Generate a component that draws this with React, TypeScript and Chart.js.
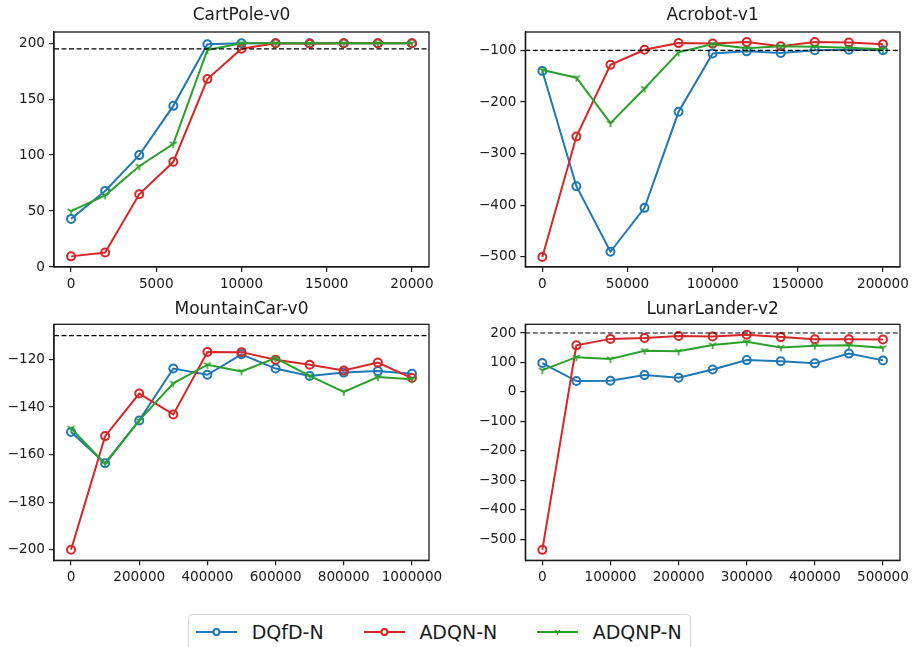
import React, { useEffect, useRef } from "react";
import { Chart, registerables } from "chart.js";

Chart.register(...registerables);

// ---------- data ----------
const seriesNames = ["DQfD-N", "ADQN-N", "ADQNP-N"];
const seriesColors = ["#1f77b4", "#d62728", "#2ca02c"];

const cartSteps = [0, 2000, 4000, 6000, 8000, 10000, 12000, 14000, 16000, 18000, 20000];
const cartDQfD = [43, 68, 100, 144, 199, 200, 200, 200, 200, 200, 200];
const cartADQN = [9.5, 13, 65, 94, 168, 195, 200, 199.5, 200, 200, 200];
const cartADQNP = [50, 64, 90, 110, 194, 200, 200, 200, 200, 200, 200];
const cartThreshold = 195;
const cartXTicks = [0, 5000, 10000, 15000, 20000];
const cartYTicks = [0, 50, 100, 150, 200];

const acroSteps = [0, 20000, 40000, 60000, 80000, 100000, 120000, 140000, 160000, 180000, 200000];
const acroDQfD = [-140, -363, -490, -405, -219, -106, -102, -105, -100, -99, -100];
const acroADQN = [-500, -267, -128, -99, -86, -87, -84, -92, -84, -85, -88];
const acroADQNP = [-138, -153, -241, -174, -104, -88, -96, -92, -93, -95, -98];
const acroThreshold = -100;
const acroXTicks = [0, 50000, 100000, 150000, 200000];
const acroYTicks = [-500, -400, -300, -200, -100];

const mcarSteps = [0, 100000, 200000, 300000, 400000, 500000, 600000, 700000, 800000, 900000, 1000000];
const mcarDQfD = [-150.5, -163.6, -145.6, -123.8, -126.4, -117.8, -123.8, -126.9, -125.5, -124.8, -126];
const mcarADQN = [-200, -152.2, -134.3, -143.1, -116.8, -116.9, -120.1, -122.2, -124.6, -121.3, -127.8];
const mcarADQNP = [-148.9, -163.9, -145.6, -130, -122.2, -125, -119.4, -126.9, -133.6, -127.4, -128.3];
const mcarThreshold = -110;
const mcarXTicks = [0, 200000, 400000, 600000, 800000, 1000000];
const mcarYTicks = [-200, -180, -160, -140, -120];

const lunarSteps = [0, 50000, 100000, 150000, 200000, 250000, 300000, 350000, 400000, 450000, 500000];
const lunarDQfD = [98, 37, 38, 57, 48, 76, 108, 104, 97, 130, 107];
const lunarADQN = [-536, 158, 180, 183, 190, 188, 194, 186, 179, 179, 178];
const lunarADQNP = [74, 118, 112, 140, 138, 159, 170, 151, 157, 158, 150];
const lunarThreshold = 200;
const lunarXTicks = [0, 100000, 200000, 300000, 400000, 500000];
const lunarYTicks = [-500, -400, -300, -200, -100, 0, 100, 200];

// ---------- layout / styles ----------
const FONT = "'DejaVu Sans', 'Liberation Sans', sans-serif";
const INK = "#1a1a1a";

type PanelCfg = {
  title: string;
  x: number[];
  series: number[][];
  threshold: number;
  xTicks: number[];
  yTicks: number[];
  xRange: [number, number];
  yRange: [number, number];
  box: { left: number; top: number; height: number };
  area: { left: number; right: number; top: number; bottom: number };
  titleCenter: number;
};

const panels: PanelCfg[] = [
  {
    title: "CartPole-v0",
    x: cartSteps,
    series: [cartDQfD, cartADQN, cartADQNP],
    threshold: cartThreshold,
    xTicks: cartXTicks,
    yTicks: cartYTicks,
    xRange: [-1000, 21000],
    yRange: [0, 210],
    box: { left: 0, top: 0, height: 300 },
    area: { left: 54, right: 429, top: 32, bottom: 267 },
    titleCenter: 16,
  },
  {
    title: "Acrobot-v1",
    x: acroSteps,
    series: [acroDQfD, acroADQN, acroADQNP],
    threshold: acroThreshold,
    xTicks: acroXTicks,
    yTicks: acroYTicks,
    xRange: [-10000, 210000],
    yRange: [-519.5, -64.5],
    box: { left: 459, top: 0, height: 300 },
    area: { left: 525.3, right: 900, top: 32, bottom: 267 },
    titleCenter: 16,
  },
  {
    title: "MountainCar-v0",
    x: mcarSteps,
    series: [mcarDQfD, mcarADQN, mcarADQNP],
    threshold: mcarThreshold,
    xTicks: mcarXTicks,
    yTicks: mcarYTicks,
    xRange: [-50000, 1050000],
    yRange: [-204.4, -105.2],
    box: { left: 0, top: 296, height: 304 },
    area: { left: 54, right: 429, top: 324.3, bottom: 560.3 },
    titleCenter: 13.7,
  },
  {
    title: "LunarLander-v2",
    x: lunarSteps,
    series: [lunarDQfD, lunarADQN, lunarADQNP],
    threshold: lunarThreshold,
    xTicks: lunarXTicks,
    yTicks: lunarYTicks,
    xRange: [-25000, 525000],
    yRange: [-571.5, 229.5],
    box: { left: 459, top: 296, height: 304 },
    area: { left: 525.3, right: 900, top: 324.3, bottom: 560.3 },
    titleCenter: 13.7,
  },
];

const fmt = (v: number | string) => {
  const n = Number(v);
  return n < 0 ? "\u2212" + String(Math.abs(n)) : String(n);
};

function makeTri(color: string): HTMLCanvasElement {
  const c = document.createElement("canvas");
  c.width = 10;
  c.height = 10;
  const g = c.getContext("2d")!;
  g.strokeStyle = color;
  g.lineWidth = 1.6;
  g.lineCap = "butt";
  const cx = 5, cy = 5, r = 4;
  g.beginPath();
  g.moveTo(cx, cy); g.lineTo(cx, cy + r);
  g.moveTo(cx, cy); g.lineTo(cx - r * 0.866, cy - r * 0.5);
  g.moveTo(cx, cy); g.lineTo(cx + r * 0.866, cy - r * 0.5);
  g.stroke();
  return c;
}

function canvasSize(cfg: PanelCfg) {
  const yW = cfg.area.left - cfg.box.left;
  const raw = cfg.area.right - cfg.box.left + yW;
  const width = Math.ceil(raw);
  return { yW, width, padRight: width - raw };
}

function Panel({ cfg }: { cfg: PanelCfg }) {
  const ref = useRef<HTMLCanvasElement>(null);
  const { yW, width, padRight } = canvasSize(cfg);
  useEffect(() => {
    if (!ref.current) return;
    const tri = makeTri(seriesColors[2]);
    const xH = 30;
    const padBottom = cfg.box.top + cfg.box.height - cfg.area.bottom - xH;
    const titleH = cfg.area.top - cfg.box.top;
    const lineH = 17 * 1.2;
    const tPadTop = Math.max(0, cfg.titleCenter - lineH / 2);
    const tPadBottom = titleH - lineH - tPadTop;

    const framePlugin = {
      id: "frameAndThreshold",
      afterDatasetsDraw(chart: any) {
        const { ctx, chartArea, scales } = chart;
        const y = scales.y.getPixelForValue(cfg.threshold);
        ctx.save();
        ctx.strokeStyle = "#000";
        ctx.lineWidth = 1.2;
        ctx.setLineDash([5, 2.5]);
        ctx.beginPath();
        ctx.moveTo(chartArea.left, y);
        ctx.lineTo(chartArea.right, y);
        ctx.stroke();
        ctx.restore();
      },
      afterDraw(chart: any) {
        const { ctx, chartArea } = chart;
        ctx.save();
        ctx.strokeStyle = INK;
        ctx.lineWidth = 1.3;
        ctx.strokeRect(chartArea.left, chartArea.top, chartArea.right - chartArea.left, chartArea.bottom - chartArea.top);
        ctx.restore();
      },
    };

    const axisGrid = {
      display: true,
      drawOnChartArea: false,
      drawTicks: true,
      tickLength: 5,
      color: INK,
      lineWidth: 1.2,
    };

    const chart = new Chart(ref.current, {
      type: "line",
      data: {
        datasets: cfg.series.map((vals, i) => ({
          label: seriesNames[i],
          data: vals.map((v, j) => ({ x: cfg.x[j], y: v })),
          borderColor: seriesColors[i],
          backgroundColor: seriesColors[i],
          borderWidth: 2,
          pointStyle: i === 2 ? (tri as any) : "circle",
          pointRadius: 4,
          pointBorderWidth: 2,
          pointBorderColor: seriesColors[i],
          pointBackgroundColor: i === 2 ? seriesColors[i] : "rgba(255,255,255,0)",
          tension: 0,
          fill: false,
          order: 3 - i,
        })),
      },
      options: {
        animation: false,
        responsive: false,
        maintainAspectRatio: false,
        events: [],
        layout: { padding: { left: 0, right: padRight, top: 0, bottom: padBottom } },
        plugins: {
          legend: { display: false },
          tooltip: { enabled: false },
          title: {
            display: true,
            text: cfg.title,
            color: INK,
            font: { family: FONT, size: 17, weight: "normal", lineHeight: 1.2 },
            padding: { top: tPadTop, bottom: tPadBottom },
          },
        },
        scales: {
          x: {
            type: "linear",
            min: cfg.xRange[0],
            max: cfg.xRange[1],
            afterBuildTicks: (axis: any) => {
              axis.ticks = cfg.xTicks.map((v) => ({ value: v }));
            },
            afterFit: (axis: any) => {
              axis.height = xH;
            },
            grid: axisGrid,
            border: { display: true, color: INK, width: 1.3 },
            ticks: {
              color: INK,
              font: { family: FONT, size: 13.6 },
              padding: 4,
              maxRotation: 0,
              autoSkip: false,
              callback: (v: any) => fmt(v),
            },
          },
          y: {
            type: "linear",
            position: "left",
            min: cfg.yRange[0],
            max: cfg.yRange[1],
            afterBuildTicks: (axis: any) => {
              axis.ticks = cfg.yTicks.map((v) => ({ value: v }));
            },
            afterFit: (axis: any) => {
              axis.width = yW;
            },
            grid: axisGrid,
            border: { display: true, color: INK, width: 1.3 },
            ticks: {
              color: INK,
              font: { family: FONT, size: 13.6 },
              padding: 4,
              autoSkip: false,
              callback: (v: any) => fmt(v),
            },
          },
          // invisible mirror axis so the title centres over the plot area
          yMirror: {
            type: "linear",
            position: "right",
            min: 0,
            max: 1,
            afterFit: (axis: any) => {
              axis.width = yW;
            },
            grid: { display: false, drawTicks: false },
            border: { display: false },
            ticks: { display: false },
          },
        },
      } as any,
      plugins: [framePlugin],
    });
    return () => chart.destroy();
  }, [cfg, yW, padRight]);
  return (
    <canvas
      ref={ref}
      width={width}
      height={cfg.box.height}
      style={{
        position: "absolute",
        left: cfg.box.left,
        top: cfg.box.top,
        width: width,
        height: cfg.box.height,
      }}
    />
  );
}

const legendItemLeft = [7, 174.7, 348];

function LegendMarker({ i }: { i: number }) {
  const c = seriesColors[i];
  return (
    <svg width={41} height={14} style={{ display: "block", flex: "none" }}>
      <line x1={0} y1={7} x2={41} y2={7} stroke={c} strokeWidth={2} />
      {i === 2 ? (
        <g stroke={c} strokeWidth={1.5}>
          <line x1={20.5} y1={7} x2={20.5} y2={10} />
          <line x1={20.5} y1={7} x2={17.9} y2={5.5} />
          <line x1={20.5} y1={7} x2={23.1} y2={5.5} />
        </g>
      ) : (
        <circle cx={20.5} cy={7} r={3} fill="white" stroke={c} strokeWidth={2} />
      )}
    </svg>
  );
}

export default function App() {
  return (
    <div
      style={{
        position: "fixed",
        left: 0,
        top: 0,
        width: 918,
        height: 647,
        background: "#ffffff",
        overflow: "hidden",
      }}
    >
      {panels.map((p) => (
        <Panel key={p.title} cfg={p} />
      ))}
      <div
        style={{
          position: "absolute",
          left: 188,
          top: 614,
          width: 503,
          height: 44,
          border: "1px solid #d3d3d3",
          borderRadius: 4,
          boxSizing: "border-box",
          background: "#fff",
        }}
      >
        {seriesNames.map((name, i) => (
          <div
            key={name}
            style={{
              position: "absolute",
              left: legendItemLeft[i],
              top: 0,
              height: 34,
              display: "flex",
              alignItems: "center",
              whiteSpace: "nowrap",
            }}
          >
            <LegendMarker i={i} />
            <span
              style={{
                marginLeft: 14.7,
                fontFamily: FONT,
                fontSize: 19,
                color: INK,
                lineHeight: 1,
              }}
            >
              {name}
            </span>
          </div>
        ))}
      </div>
    </div>
  );
}
